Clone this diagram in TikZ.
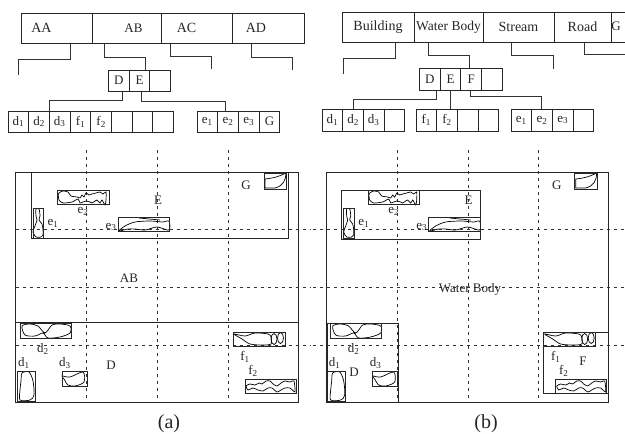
\documentclass[tikz,border=0pt]{standalone}
\usepackage{fontspec}
\setmainfont{Liberation Serif}
\usetikzlibrary{positioning}
\newcommand{\sub}[2]{#1\textsubscript{#2}}
% the shapes on the map, the same in both panels
\newcommand{\mapblobs}{
  \draw[blob] plot[smooth cycle, tension=0.4] coordinates {(58.5,193.5) (63,191) (68,192) (71,196) (77,197) (80,198) (82,195) (84,197) (86,193) (89,195) (92,194) (96,193) (100,192) (103,194) (106,192) (106,200) (105,205) (102,200) (100,203) (97,200) (95,201) (92,203) (90,202) (86,201) (83,202) (80,203) (78,199) (72,202) (63,203) (59,200)};
  \draw[blob] plot[smooth cycle, tension=0.5] coordinates {(36,209) (39,209) (40,216) (39,220) (42,224) (43,230) (43,235) (41,237) (36,237) (33,232) (35,226) (37,220) (36,216)};
  \draw[blob] plot[smooth cycle] coordinates {(119,231) (125,226) (135,222) (150,221) (163,222) (169,221) (169,230) (157,227) (145,230) (135,229) (128,229)};
  \draw[blob] (139,218) -- (160,220);
  \draw[blob] (265,179) .. controls (275,178) and (280,176) .. (286,173) .. controls (286,180) and (283,186) .. (275,188) -- (265,188) -- cycle;
  \draw[blob] plot[smooth cycle] coordinates {(22,326) (30,324) (38,326) (45,333) (52,325) (60,324) (70,326) (70,333) (60,337) (48,338) (43,333) (35,336) (25,335)};
  \draw[blob] plot[smooth cycle] coordinates {(22,373) (29,372) (33,381) (34,395) (30,400) (20,400) (20,390) (21,381)};
  \draw[blob] plot[smooth cycle, tension=0.5] coordinates {(62,376) (70,377) (83,372) (84,382) (75,386) (68,385) (64,379)};
  \draw[blob] plot[smooth cycle] coordinates {(234,334) (245,336) (255,333) (268,334) (271,337) (271,344) (262,345) (250,344) (242,339)};
  \draw[blob] (274,339) ellipse (3 and 5.5);
  \draw[blob] (280.5,338) ellipse (3 and 5.5);
  \draw[blob] plot[smooth cycle, tension=0.4] coordinates {(246,386) (250,384) (255,385) (259,383) (262,384) (266,381) (270,381) (273,384) (277,386) (281,383) (285,381) (290,382) (294,381) (295,392) (290,388) (285,388) (281,390) (277,392) (272,388) (268,388) (263,391) (258,390) (253,388) (248,390)};
  \draw[mbr] (57.5,190) rectangle (109,204);
  \draw[mbr] (33,208.5) rectangle (43.5,238);
  \draw[mbr] (118,217) rectangle (169.5,231);
  \draw[mbr] (264,173) rectangle (286.5,189);
  \draw[mbr] (20,323.5) rectangle (71,338);
  \draw[mbr] (17,371) rectangle (35,401);
  \draw[mbr] (62,371.5) rectangle (87,386.5);
  \draw[mbr] (233,332) rectangle (285,346);
  \draw[mbr] (245,379) rectangle (296,393.5);
  \node[lbl] (e2l) at (83,211) {\sub{e}{2}};
  \node[lbl] (e1l) at (53,223) {\sub{e}{1}};
  \node[lbl] (e3l) at (111,227) {\sub{e}{3}};
  \node[lbl] (el) at (158,200) {E};
  \node[lbl] (gl) at (246,185) {G};
  \node[lbl] (d2l) at (43,349) {\sub{d}{2}};
  \node[lbl] (d1l) at (24,363) {\sub{d}{1}};
  \node[lbl] (d3l) at (65,363) {\sub{d}{3}};
  \node[lbl] (f1l) at (245,357) {\sub{f}{1}};
  \node[lbl] (f2l) at (253,371) {\sub{f}{2}};
}
\begin{document}
\begin{tikzpicture}[
  x=1pt, y=-1pt,
  rec/.style={draw, line width=0.9pt, black!85, minimum width=70pt, minimum height=30pt, inner sep=0pt, outer sep=0pt, font=\fontsize{14}{14}\selectfont},
  cell/.style={draw, line width=0.9pt, black!85, minimum width=20.7pt, minimum height=21pt, inner sep=0pt, outer sep=0pt, font=\fontsize{13}{13}\selectfont},
  link/.style={line width=0.9pt, black!80},
  grid/.style={dashed, line width=0.9pt, dash pattern=on 3pt off 4pt, black!80},
  mbr/.style={line width=0.9pt, black!85},
  blob/.style={line width=0.7pt},
  lbl/.style={inner sep=0pt, font=\fontsize{13}{13}\selectfont, text=black!85},
  caption/.style={inner sep=0pt, font=\fontsize{20}{20}\selectfont, text=black!85},
]
\useasboundingbox (0,0) rectangle (625,434);

% (a) directory
\node[rec, anchor=north west, minimum width=71pt, label={[lbl, font=\fontsize{14}{14}\selectfont, xshift=-15pt]center:AA}] (aa) at (21,13) {};
\node[rec, right=0pt of aa, minimum width=69pt, label={[lbl, xshift=7pt]center:AB}] (ab) {};
\node[rec, right=0pt of ab, minimum width=71pt, label={[lbl, font=\fontsize{14}{14}\selectfont, xshift=-10pt]center:AC}] (ac) {};
\node[rec, right=0pt of ac, minimum width=72pt, label={[lbl, font=\fontsize{14}{14}\selectfont, xshift=-12pt]center:AD}] (ad) {};
\node[cell, anchor=north west] (ma1) at (108.5,70) {D};
\node[cell, right=0pt of ma1] (ma2) {E};
\node[cell, right=0pt of ma2] (ma3) {};
\node[cell, anchor=north west] (da1) at (8,111) {\sub{d}{1}};
\foreach \name/\prev/\txt in {da2/da1/\sub{d}{2}, da3/da2/\sub{d}{3}, da4/da3/\sub{f}{1}, da5/da4/\sub{f}{2}, da6/da5/, da7/da6/, da8/da7/}
  \node[cell, right=0pt of \prev] (\name) {\txt};
\node[cell, anchor=north west] (ea1) at (197,111) {\sub{e}{1}};
\foreach \name/\prev/\txt in {ea2/ea1/\sub{e}{2}, ea3/ea2/\sub{e}{3}, ea4/ea3/G}
  \node[cell, right=0pt of \prev] (\name) {\txt};
\coordinate (aaend) at (18,75);
\coordinate (acend) at (211,69);
\coordinate (adend) at (292,70);
\draw[link] ([xshift=13.5pt]aa.south) -- ++(0,16) -| (aaend);
\draw[link] ([xshift=-22.5pt]ab.south) -- ++(0,14) -| ([xshift=6pt]ma2.north);
\draw[link] ([xshift=-26.5pt]ac.south) -- ++(0,13) -| (acend);
\draw[link] ([xshift=-17pt]ad.south) -- ++(0,14) -| (adend);
\draw[link] ([xshift=3.5pt]ma1.south) -- ++(0,9) -| (da3.north west);
\draw[link] ([xshift=2pt]ma2.south) -- ++(0,10) -| ([xshift=-3pt]ea2.north);

% (a) map
\draw[mbr] (15.5,172) rectangle (298,402);
\draw[mbr] (31,172) rectangle (288,238);
\draw[mbr] (15.5,322) -- (298,322);
\foreach \x in {86,157,228}
  \draw[grid] (\x,150) -- (\x,402);
\foreach \y in {229.5,287,345}
  \draw[grid] (15.5,\y) -- (310,\y);
\mapblobs
\node[lbl] (abl) at (129,278) {AB};
\node[lbl] (dal) at (111,365) {D};
\node[caption] (capa) at (169,424) {(a)};

% (b) directory
\node[rec, anchor=north west, minimum width=72pt] (bu) at (342,12) {Building};
\node[rec, right=0pt of bu, minimum width=69pt, font=\fontsize{13.5}{13.5}\selectfont] (wb) {Water Body};
\node[rec, right=0pt of wb, minimum width=71pt] (st) {Stream};
\node[rec, right=0pt of st, minimum width=57pt] (ro) {Road};
\node[lbl] (gt) at (616,26) {G};
\draw[line width=0.9pt, black!85] (ro.north east) -- ++(14,0);
\draw[line width=0.9pt, black!85] (ro.south east) -- ++(14,0);
\node[cell, anchor=north west, minimum height=22pt] (mb1) at (419.5,68) {D};
\foreach \name/\prev/\txt in {mb2/mb1/E, mb3/mb2/F, mb4/mb3/}
  \node[cell, right=0pt of \prev, minimum height=22pt] (\name) {\txt};
\node[cell, anchor=north west, minimum height=22pt] (db1) at (322,109) {\sub{d}{1}};
\foreach \name/\prev/\txt in {db2/db1/\sub{d}{2}, db3/db2/\sub{d}{3}, db4/db3/}
  \node[cell, right=0pt of \prev, minimum height=22pt] (\name) {\txt};
\node[cell, anchor=north west, minimum height=22pt] (fb1) at (416,109) {\sub{f}{1}};
\foreach \name/\prev/\txt in {fb2/fb1/\sub{f}{2}, fb3/fb2/, fb4/fb3/}
  \node[cell, right=0pt of \prev, minimum height=22pt] (\name) {\txt};
\node[cell, anchor=north west, minimum height=22pt] (eb1) at (511,109) {\sub{e}{1}};
\foreach \name/\prev/\txt in {eb2/eb1/\sub{e}{2}, eb3/eb2/\sub{e}{3}, eb4/eb3/}
  \node[cell, right=0pt of \prev, minimum height=22pt] (\name) {\txt};
\coordinate (buend) at (343,74);
\coordinate (stend) at (553,69);
\coordinate (roend) at (625,54);
\draw[link] ([xshift=17pt]bu.south) -- ++(0,16) -| (buend);
\draw[link] ([xshift=-20.5pt]wb.south) -- ++(0,13) -| ([xshift=-1.5pt]mb3.north);
\draw[link] ([xshift=-7pt]st.south) -- ++(0,13) -| (stend);
\draw[link] ([xshift=2pt]ro.south) -- ++(0,12) -- (roend);
\draw[link] ([xshift=7pt]mb1.south) -- ++(0,9) -| (db2.north);
\draw[link] (mb2.south) -- (mb2.south |- fb2.north);
\draw[link] ([xshift=-0.5pt]mb3.south) -- ++(0,6) -| ([xshift=-0.5pt]eb2.north);

% (b) map
\draw[mbr] (326,172) rectangle (608.5,402);
\draw[mbr] (341.5,190) rectangle (480.5,239);
\draw[mbr] (327,323.5) rectangle (398.5,402);
\draw[mbr] (543.5,332.5) rectangle (608,393.5);
\foreach \x in {397,468,538.5}
  \draw[grid] (\x,150) -- (\x,402);
\foreach \y in {229.5,287,345}
  \draw[grid] (313,\y) -- (625,\y);
\begin{scope}[xshift=310.7pt]
\mapblobs
\end{scope}
\node[lbl] (wbl) at (470,289) {Water Body};
\node[lbl] (dbl) at (354,372) {D};
\node[lbl] (fbl) at (583,361) {F};
\node[caption] (capb) at (486,424) {(b)};
\end{tikzpicture}
\end{document}
